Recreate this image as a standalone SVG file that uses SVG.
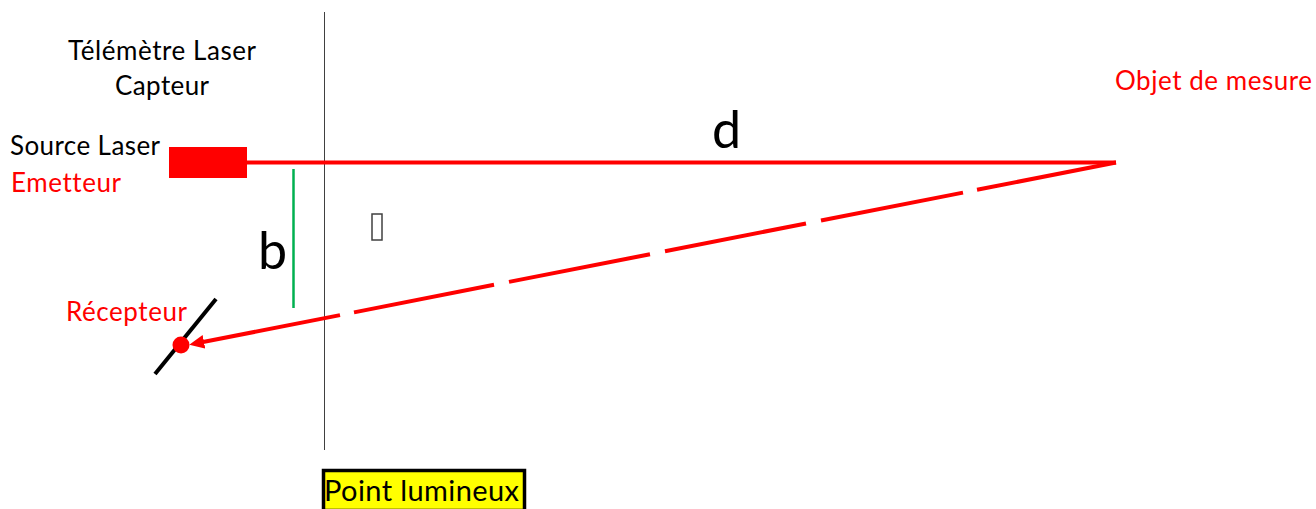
<svg xmlns="http://www.w3.org/2000/svg" width="1316" height="509" viewBox="0 0 1316 509">
<style>
text{font-family:Lato,"Open Sans","Liberation Sans",sans-serif;fill:#000;font-variant-ligatures:none}
.s{font-size:26px}
.r{fill:#f00}
.big{font-size:52px}
.ray{stroke:#f00;stroke-width:4;fill:none}
.ink{stroke:#000;stroke-width:4;fill:none}
</style>
<defs><marker id="head" markerUnits="userSpaceOnUse" markerWidth="17" markerHeight="16" refX="1" refY="8" orient="auto"><path d="M0 1L15 8L0 15Z" fill="#f00"/></marker></defs>
<rect width="1316" height="509" fill="#fff"/>
<g id="connectors">
<line x1="324.500" y1="12" x2="324.500" y2="450" stroke="#404040" stroke-width="1"/>
<line class="ray" x1="247" y1="162.500" x2="1116" y2="162.500"/>
<line x1="293.500" y1="169" x2="293.500" y2="308" stroke="#00b050" stroke-width="2.500"/>
<line class="ray" x1="1116" y1="162.500" x2="977" y2="189.800"/>
<line class="ray" x1="963" y1="192.600" x2="821" y2="220.500"/>
<line class="ray" x1="806" y1="223.500" x2="665" y2="251.200"/>
<line class="ray" x1="650" y1="254.200" x2="509" y2="281.900"/>
<line class="ray" x1="494" y1="284.800" x2="354" y2="312.400"/>
<line class="ray" x1="340" y1="315.100" x2="203" y2="342" marker-end="url(#head)"/>
</g>
<g id="telemetre"><text class="s" x="68" y="60" textLength="188">Télémètre Laser</text><text class="s" x="115" y="95" textLength="94">Capteur</text></g>
<g id="source"><rect x="169" y="147" width="78" height="31" fill="#f00"/><text class="s" x="10" y="155" textLength="150">Source Laser</text><text class="s r" x="11" y="192" textLength="110">Emetteur</text></g>
<g id="objet"><text class="s r" x="1115" y="90" textLength="197">Objet de mesure</text></g>
<g id="d"><text class="big" x="712" y="148">d</text></g>
<g id="b"><text class="big" x="258" y="269">b</text></g>
<g id="angle"><rect x="372" y="214" width="10" height="26" fill="none" stroke="#404040" stroke-width="1.500"/></g>
<g id="recepteur"><text class="s r" x="66" y="321" textLength="121">Récepteur</text><line class="ink" x1="155" y1="374" x2="216" y2="299"/><circle cx="181" cy="345" r="8.500" fill="#f00"/></g>
<g id="point"><rect x="323.500" y="470.500" width="201" height="40" fill="#ff0" stroke="#000" stroke-width="3.500"/><text x="324" y="501" style="font-size:29px" textLength="195">Point lumineux</text></g>
</svg>
